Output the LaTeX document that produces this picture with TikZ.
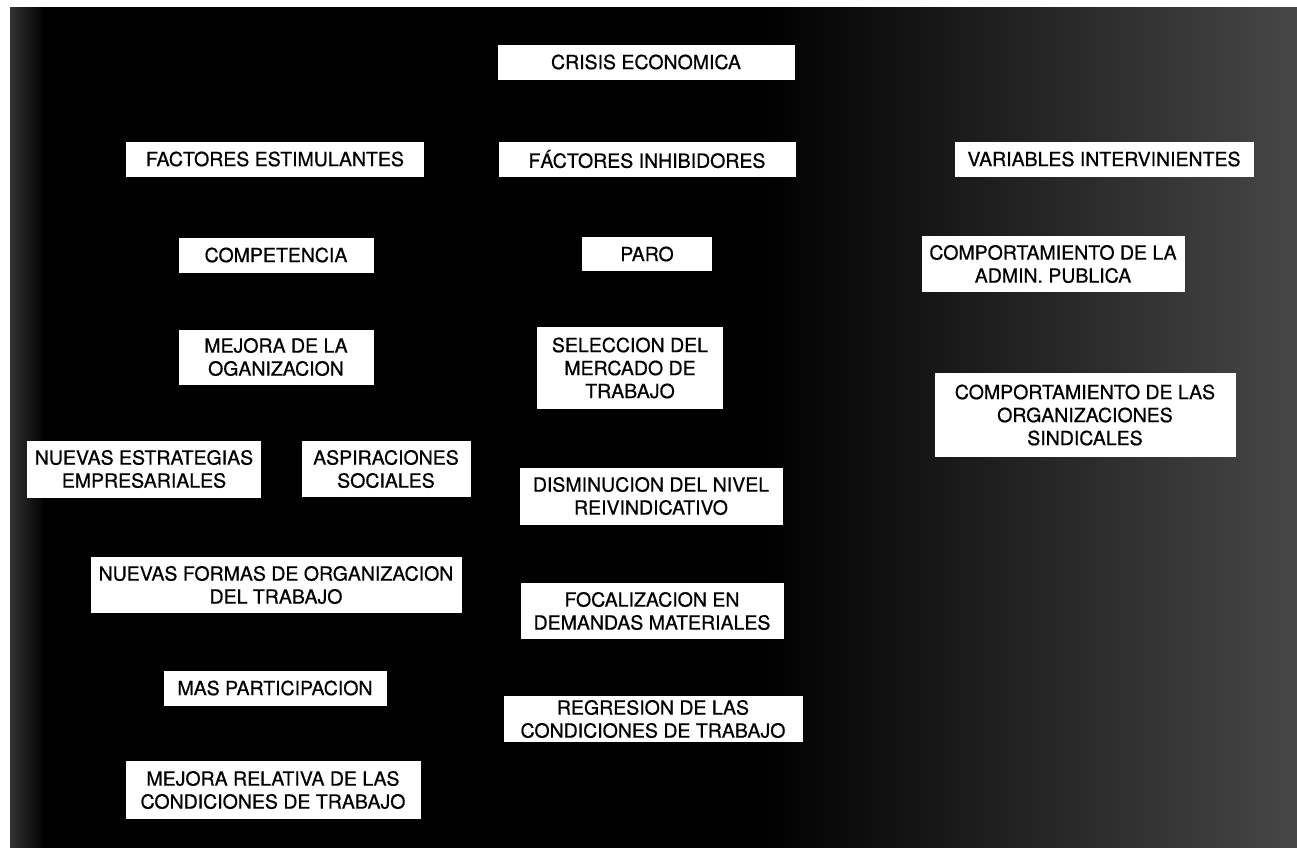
\documentclass[tikz,border=0pt]{standalone}
\usepackage{fontspec}
\usepackage{xcolor}
\usepackage{tikz}
\newfontfamily\cajafont[FakeBold=0.7]{TeX Gyre Heros}
\tikzset{
  caja/.style 2 args={fill=white, inner sep=0pt, align=center, text=black,
    minimum width=#1*0.5pt, minimum height=#2*0.5pt,
    font=\cajafont\fontsize{9.75}{11.5}\selectfont}
}

\begin{document}
\begin{tikzpicture}
              [x=0.5pt, y=-0.5pt]
              % fondo %
              \useasboundingbox (0,0) rectangle (1297,847);
              \fill[white] (-5,-5) rectangle (1302,852);
              \fill[black] (10,7) rectangle (1302,852);
              \shade[left color=black, right color=black!72!white]
                (760,7) rectangle (1302,852);
              \shade[left color=black!80!white, right color=black]
                (10,7) rectangle (45,852);

              % nodes %
              \node[caja={297}{35}] (crisis) at (646,62) {CRISIS ECONOMICA};
              \node[caja={298}{35}] (estimul) at (275,159) {FACTORES ESTIMULANTES};
              \node[caja={297}{35}] (inhib) at (647,159) {FÁCTORES INHIBIDORES};
              \node[caja={299}{35}] (variab) at (1104,159) {VARIABLES INTERVINIENTES};
              \node[caja={195}{35}] (compet) at (276,255) {COMPETENCIA};
              \node[caja={130}{34}] (paro) at (647,254) {PARO};
              \node[caja={263}{56}] (admin) at (1053,264) {COMPORTAMIENTO DE LA\\ADMIN. PUBLICA};
              \node[caja={195}{55}] (mejora) at (276,357) {MEJORA DE LA\\OGANIZACION};
              \node[caja={186}{82}] (selec) at (630,368) {SELECCION DEL\\MERCADO DE\\TRABAJO};
              \node[caja={301}{84}] (sindic) at (1085,415) {COMPORTAMIENTO DE LAS\\ORGANIZACIONES\\SINDICALES};
              \node[caja={234}{57}] (estrat) at (144,469) {NUEVAS ESTRATEGIAS\\EMPRESARIALES};
              \node[caja={169}{56}] (aspir) at (386,469) {ASPIRACIONES\\SOCIALES};
              \node[caja={263}{57}] (dismin) at (651,496) {DISMINUCION DEL NIVEL\\REIVINDICATIVO};
              \node[caja={371}{56}] (formas) at (276,585) {NUEVAS FORMAS DE ORGANIZACION\\DEL TRABAJO};
              \node[caja={263}{56}] (focal) at (652,611) {FOCALIZACION EN\\DEMANDAS MATERIALES};
              \node[caja={223}{35}] (partic) at (275,688) {MAS PARTICIPACION};
              \node[caja={299}{46}] (regres) at (653,719) {REGRESION DE LAS\\CONDICIONES DE TRABAJO};
              \node[caja={295}{58}] (mejrel) at (273,790) {MEJORA RELATIVA DE LAS\\CONDICIONES DE TRABAJO};
            \end{tikzpicture}
\end{document}
